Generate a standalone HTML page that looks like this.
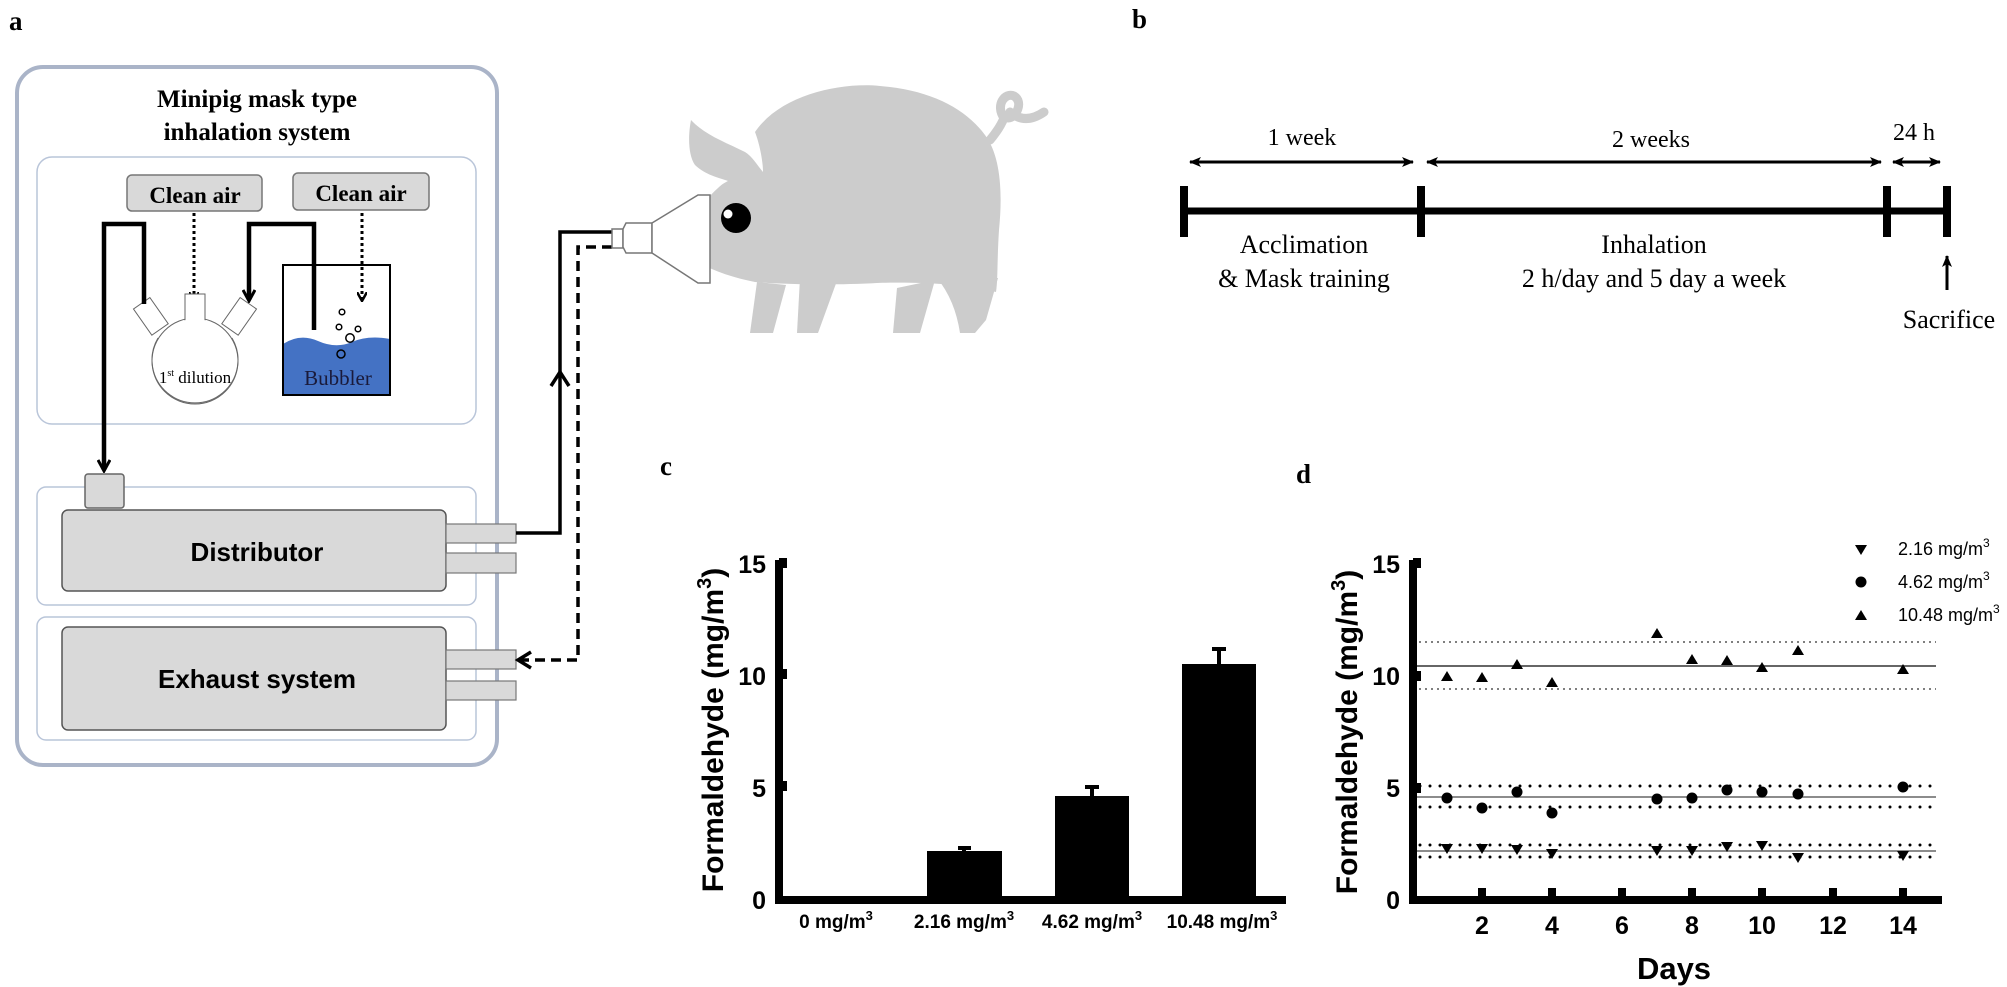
<!DOCTYPE html>
<html><head><meta charset="utf-8"><style>
html,body{margin:0;padding:0;background:#fff;}
svg{display:block;}
.serif{font-family:"Liberation Serif",serif;}
.sans{font-family:"Liberation Sans",sans-serif;}
</style></head><body>
<svg width="2007" height="987" viewBox="0 0 2007 987" xmlns="http://www.w3.org/2000/svg">
<defs>
<marker id="ah" markerWidth="10" markerHeight="10" refX="8" refY="5" orient="auto" markerUnits="userSpaceOnUse"><path d="M0,0 L9,5 L0,10" fill="none" stroke="#000" stroke-width="2.5"/></marker>
<marker id="ahs" markerWidth="14" markerHeight="14" refX="11" refY="7" orient="auto" markerUnits="userSpaceOnUse"><path d="M1,1 L12,7 L1,13" fill="none" stroke="#000" stroke-width="3"/></marker>
<marker id="af" markerWidth="12" markerHeight="10" refX="11" refY="5" orient="auto-start-reverse" markerUnits="userSpaceOnUse"><path d="M0,0 L12,5 L0,10 L3,5Z" fill="#000"/></marker>
</defs>

<!-- Panel a -->
<text x="9" y="30" class="serif" font-weight="bold" font-size="27">a</text>
<rect x="17" y="67" width="480" height="698" rx="26" fill="none" stroke="#aab4c8" stroke-width="4"/>
<text x="257" y="107" class="serif" font-weight="bold" font-size="25" text-anchor="middle">Minipig mask type</text>
<text x="257" y="140" class="serif" font-weight="bold" font-size="25" text-anchor="middle">inhalation system</text>
<rect x="37" y="157" width="439" height="267" rx="15" fill="none" stroke="#b9c5d9" stroke-width="1.5"/>
<rect x="127" y="175" width="135" height="36" rx="5" fill="#d9d9d9" stroke="#777" stroke-width="1.5"/>
<text x="195" y="203" class="serif" font-weight="bold" font-size="23" text-anchor="middle">Clean air</text>
<rect x="293" y="173" width="136" height="37" rx="5" fill="#d9d9d9" stroke="#777" stroke-width="1.5"/>
<text x="361" y="201" class="serif" font-weight="bold" font-size="23" text-anchor="middle">Clean air</text>
<line x1="194" y1="213" x2="194" y2="300" stroke="#000" stroke-width="3" stroke-dasharray="3 3" marker-end="url(#ah)"/>
<line x1="362" y1="213" x2="362" y2="300" stroke="#000" stroke-width="3" stroke-dasharray="3 3" marker-end="url(#ah)"/>
<!-- flask -->
<circle cx="195" cy="361" r="43" fill="#fff" stroke="#666" stroke-width="1"/>
<rect x="185" y="294" width="20" height="30" fill="#fff" stroke="#666" stroke-width="1"/>
<g transform="rotate(-35 152 318)"><rect x="142" y="300" width="20" height="32" fill="#fff" stroke="#666" stroke-width="1"/></g>
<g transform="rotate(35 238 318)"><rect x="228" y="300" width="20" height="32" fill="#fff" stroke="#666" stroke-width="1"/></g>
<path d="M160,338 Q175,355 190,328 M200,328 Q215,355 230,338" fill="#fff" stroke="none"/>
<circle cx="195" cy="361" r="42" fill="#fff" stroke="none"/>
<path d="M158,338 A43,43 0 1 0 232,338" fill="none" stroke="#666" stroke-width="1"/>
<text x="195" y="383" class="serif" font-size="17" text-anchor="middle">1<tspan font-size="10" dy="-7">st</tspan><tspan dy="7"> dilution</tspan></text>
<!-- bubbler -->
<path d="M283,344 Q300,333 318,341 T352,342 T390,339 V395 H283 Z" fill="#4472c4"/>
<rect x="283" y="265" width="107" height="130" fill="none" stroke="#000" stroke-width="2"/>
<text x="338" y="385" class="serif" font-size="21" text-anchor="middle" fill="#1a1a3a">Bubbler</text>
<g fill="none" stroke="#000" stroke-width="1.5">
<circle cx="342" cy="312" r="2.8"/><circle cx="339" cy="327" r="2.8"/><circle cx="358" cy="329" r="2.8"/><circle cx="350" cy="338" r="4.2"/><circle cx="341" cy="354" r="4"/></g>
<!-- thick paths -->
<path d="M144,304 V224 H104 V470" fill="none" stroke="#000" stroke-width="4.5" marker-end="url(#ahs)"/>
<path d="M314,330 V224 H249 V300" fill="none" stroke="#000" stroke-width="4.5" marker-end="url(#ahs)"/>
<!-- distributor -->
<rect x="37" y="487" width="439" height="118" rx="9" fill="none" stroke="#b9c5d9" stroke-width="1.5"/>
<rect x="85" y="474" width="39" height="34" rx="3" fill="#d9d9d9" stroke="#666" stroke-width="1.5"/>
<rect x="62" y="510" width="384" height="81" rx="6" fill="#d9d9d9" stroke="#555" stroke-width="1.5"/>
<text x="257" y="561" class="sans" font-weight="bold" font-size="26" text-anchor="middle">Distributor</text>
<rect x="446" y="524" width="70" height="19" fill="#d9d9d9" stroke="#777" stroke-width="1.2"/>
<rect x="446" y="553" width="70" height="20" fill="#d9d9d9" stroke="#777" stroke-width="1.2"/>
<!-- exhaust -->
<rect x="37" y="617" width="439" height="123" rx="9" fill="none" stroke="#b9c5d9" stroke-width="1.5"/>
<rect x="62" y="627" width="384" height="103" rx="6" fill="#d9d9d9" stroke="#555" stroke-width="1.5"/>
<text x="257" y="688" class="sans" font-weight="bold" font-size="26" text-anchor="middle">Exhaust system</text>
<rect x="446" y="650" width="70" height="19" fill="#d9d9d9" stroke="#777" stroke-width="1.2"/>
<rect x="446" y="681" width="70" height="19" fill="#d9d9d9" stroke="#777" stroke-width="1.2"/>
<!-- tubing -->
<path d="M516,533 H560 V232 H612" fill="none" stroke="#000" stroke-width="3.5"/>
<path d="M551,386 L560,372 L569,386" fill="none" stroke="#000" stroke-width="3.5"/>
<path d="M612,247 H578 V660 H520" fill="none" stroke="#000" stroke-width="3.5" stroke-dasharray="10 6"/>
<path d="M531,652 L518,660 L531,668" fill="none" stroke="#000" stroke-width="3.5"/>
<!-- pig -->
<g fill="#cccccc">
<path d="M755,132 C780,95 840,82 880,86 C930,90 965,108 985,135 C1000,155 1003,190 999,230 C997,260 998,280 996,292 C960,282 900,282 877,283 C840,285 790,285 755,282 C735,278 715,272 698,262 C690,255 685,243 687,232 C686,224 690,218 697,214 C702,205 710,195 718,188 C722,184 726,182 728,181 C720,178 705,175 695,165 C688,155 688,135 691,120 C705,135 725,142 745,152 C752,156 757,165 763,172 C763,162 760,145 755,132 Z"/>
<path d="M757,282 L786,285 L773,333 L750,333 Z"/>
<path d="M800,278 L838,278 L818,333 L797,333 Z"/>
<path d="M897,288 L935,280 L920,333 L893,333 Z"/>
<path d="M937,278 L998,278 L986,320 L975,333 L960,333 Q955,300 937,278 Z"/>
</g>
<path d="M990,140 Q1000,128 1004,118 M1004,118 C995,105 1005,92 1014,96 C1024,102 1016,118 1008,118 M1010,112 Q1025,125 1044,112" fill="none" stroke="#cccccc" stroke-width="9" stroke-linecap="round"/>
<circle cx="736" cy="218" r="15" fill="#000"/>
<circle cx="728" cy="214" r="4.5" fill="#fff"/>
<!-- mask -->
<g fill="#fff" stroke="#777" stroke-width="1.5">
<rect x="612" y="229" width="11" height="19"/>
<path d="M623,229 L626,223 L652,223 L652,253 L626,253 L623,247 Z"/>
<path d="M652,223 L698,195 L710,195 L710,283 L698,283 L652,253 Z"/>
</g>

<!-- Panel b -->
<text x="1132" y="28" class="serif" font-weight="bold" font-size="27">b</text>
<line x1="1184" y1="211" x2="1947" y2="211" stroke="#000" stroke-width="7"/>
<g stroke="#000" stroke-width="8">
<line x1="1184" y1="186" x2="1184" y2="237"/><line x1="1421" y1="186" x2="1421" y2="237"/><line x1="1887" y1="186" x2="1887" y2="237"/><line x1="1947" y1="186" x2="1947" y2="237"/></g>
<g stroke="#000" stroke-width="3">
<line x1="1190" y1="162" x2="1413" y2="162" marker-end="url(#af)" marker-start="url(#af)"/>
<line x1="1427" y1="162" x2="1881" y2="162" marker-end="url(#af)" marker-start="url(#af)"/>
<line x1="1893" y1="162" x2="1940" y2="162" marker-end="url(#af)" marker-start="url(#af)"/>
<line x1="1947" y1="290" x2="1947" y2="256" marker-end="url(#af)"/>
</g>
<g class="serif" font-size="24" text-anchor="middle">
<text x="1302" y="145">1 week</text><text x="1651" y="147">2 weeks</text><text x="1914" y="140">24 h</text>
</g>
<g class="serif" font-size="26" text-anchor="middle">
<text x="1304" y="253">Acclimation</text><text x="1304" y="287">&amp; Mask training</text>
<text x="1654" y="253">Inhalation</text><text x="1654" y="287">2 h/day and 5 day a week</text>
<text x="1949" y="328">Sacrifice</text>
</g>

<!-- Panel c -->
<text x="660" y="475" class="serif" font-weight="bold" font-size="27">c</text>
<g fill="#000">
<rect x="927" y="851" width="75" height="49"/>
<rect x="1055" y="796" width="74" height="104"/>
<rect x="1182" y="664" width="74" height="236"/>
</g>
<g stroke="#000" stroke-width="4">
<line x1="964" y1="851" x2="964" y2="848"/><line x1="958" y1="848" x2="971" y2="848"/>
<line x1="1092" y1="796" x2="1092" y2="787"/><line x1="1085" y1="787" x2="1099" y2="787"/>
<line x1="1219" y1="664" x2="1219" y2="649"/><line x1="1212" y1="649" x2="1226" y2="649"/>
</g>
<line x1="779" y1="560" x2="779" y2="904" stroke="#000" stroke-width="8"/>
<line x1="775" y1="900" x2="1286" y2="900" stroke="#000" stroke-width="8"/>
<g fill="#000"><rect x="779" y="558" width="8" height="10"/><rect x="779" y="669" width="8" height="10"/><rect x="779" y="781" width="8" height="10"/></g>
<g class="sans" font-weight="bold" font-size="25" text-anchor="end">
<text x="766" y="573">15</text><text x="766" y="685">10</text><text x="766" y="797">5</text><text x="766" y="909">0</text></g>
<text transform="translate(723,730) rotate(-90)" class="sans" font-weight="bold" font-size="30" text-anchor="middle">Formaldehyde (mg/m<tspan font-size="20" dy="-12">3</tspan><tspan dy="12">)</tspan></text>
<g class="sans" font-weight="bold" font-size="19" text-anchor="middle">
<text x="836" y="928">0 mg/m<tspan font-size="13" dy="-8">3</tspan></text>
<text x="964" y="928">2.16 mg/m<tspan font-size="13" dy="-8">3</tspan></text>
<text x="1092" y="928">4.62 mg/m<tspan font-size="13" dy="-8">3</tspan></text>
<text x="1222" y="928">10.48 mg/m<tspan font-size="13" dy="-8">3</tspan></text>
</g>

<!-- Panel d -->
<text x="1296" y="483" class="serif" font-weight="bold" font-size="27">d</text>
<g stroke="#555">
<line x1="1413" y1="642" x2="1936" y2="642" stroke-width="1.5" stroke-dasharray="2 4"/>
<line x1="1413" y1="689" x2="1936" y2="689" stroke-width="1.5" stroke-dasharray="2 4"/>
<line x1="1413" y1="666" x2="1936" y2="666" stroke-width="1.5" stroke="#333"/>
<line x1="1413" y1="797" x2="1936" y2="797" stroke-width="1.5" stroke="#666"/>
<line x1="1413" y1="851" x2="1936" y2="851" stroke-width="1.5" stroke="#666"/>
</g>
<g stroke="#000" stroke-width="3" stroke-linecap="round" stroke-dasharray="0 10">
<line x1="1420" y1="786" x2="1936" y2="786"/><line x1="1420" y1="807" x2="1936" y2="807"/>
<line x1="1420" y1="845" x2="1936" y2="845"/><line x1="1420" y1="857" x2="1936" y2="857"/>
</g>
<line x1="1413" y1="560" x2="1413" y2="904" stroke="#000" stroke-width="8"/>
<line x1="1409" y1="900" x2="1942" y2="900" stroke="#000" stroke-width="8"/>
<g fill="#000">
<rect x="1413" y="558" width="8" height="10"/><rect x="1413" y="671" width="8" height="10"/><rect x="1413" y="783" width="8" height="10"/>
<rect x="1478" y="888" width="8" height="12"/><rect x="1548" y="888" width="8" height="12"/><rect x="1618" y="888" width="8" height="12"/><rect x="1688" y="888" width="8" height="12"/><rect x="1758" y="888" width="8" height="12"/><rect x="1829" y="888" width="8" height="12"/><rect x="1899" y="888" width="8" height="12"/>
</g>
<g class="sans" font-weight="bold" font-size="25" text-anchor="end">
<text x="1400" y="573">15</text><text x="1400" y="685">10</text><text x="1400" y="797">5</text><text x="1400" y="909">0</text></g>
<g class="sans" font-weight="bold" font-size="25" text-anchor="middle">
<text x="1482" y="934">2</text><text x="1552" y="934">4</text><text x="1622" y="934">6</text><text x="1692" y="934">8</text><text x="1762" y="934">10</text><text x="1833" y="934">12</text><text x="1903" y="934">14</text>
</g>
<text x="1674" y="979" class="sans" font-weight="bold" font-size="31" text-anchor="middle">Days</text>
<text transform="translate(1357,732) rotate(-90)" class="sans" font-weight="bold" font-size="30" text-anchor="middle">Formaldehyde (mg/m<tspan font-size="20" dy="-12">3</tspan><tspan dy="12">)</tspan></text>
<!-- data -->
<g fill="#000">
<!-- up triangles -->
<path d="M1447,671 l-6,10 h12z M1482,672 l-6,10 h12z M1517,659 l-6,10 h12z M1552,677 l-6,10 h12z M1657,628 l-6,10 h12z M1692,654 l-6,10 h12z M1727,655 l-6,10 h12z M1762,662 l-6,10 h12z M1798,645 l-6,10 h12z M1903,664 l-6,10 h12z"/>
<!-- circles -->
<circle cx="1447" cy="798" r="5.5"/><circle cx="1482" cy="808" r="5.5"/><circle cx="1517" cy="792" r="5.5"/><circle cx="1552" cy="813" r="5.5"/><circle cx="1657" cy="799" r="5.5"/><circle cx="1692" cy="798" r="5.5"/><circle cx="1727" cy="790" r="5.5"/><circle cx="1762" cy="792" r="5.5"/><circle cx="1798" cy="794" r="5.5"/><circle cx="1903" cy="787" r="5.5"/>
<!-- down triangles -->
<path d="M1447,854 l-6,-10 h12z M1482,854 l-6,-10 h12z M1517,855 l-6,-10 h12z M1552,859 l-6,-10 h12z M1657,856 l-6,-10 h12z M1692,856 l-6,-10 h12z M1727,852 l-6,-10 h12z M1762,851 l-6,-10 h12z M1798,863 l-6,-10 h12z M1903,861 l-6,-10 h12z"/>
<!-- legend -->
<path d="M1861,555 l-6,-10 h12z"/><circle cx="1861" cy="582" r="5.5"/><path d="M1861,610 l-6,10 h12z"/>
</g>
<g class="sans" font-size="18">
<text x="1898" y="555">2.16 mg/m<tspan font-size="12" dy="-8">3</tspan></text>
<text x="1898" y="588">4.62 mg/m<tspan font-size="12" dy="-8">3</tspan></text>
<text x="1898" y="621">10.48 mg/m<tspan font-size="12" dy="-8">3</tspan></text>
</g>
</svg>
</body></html>
